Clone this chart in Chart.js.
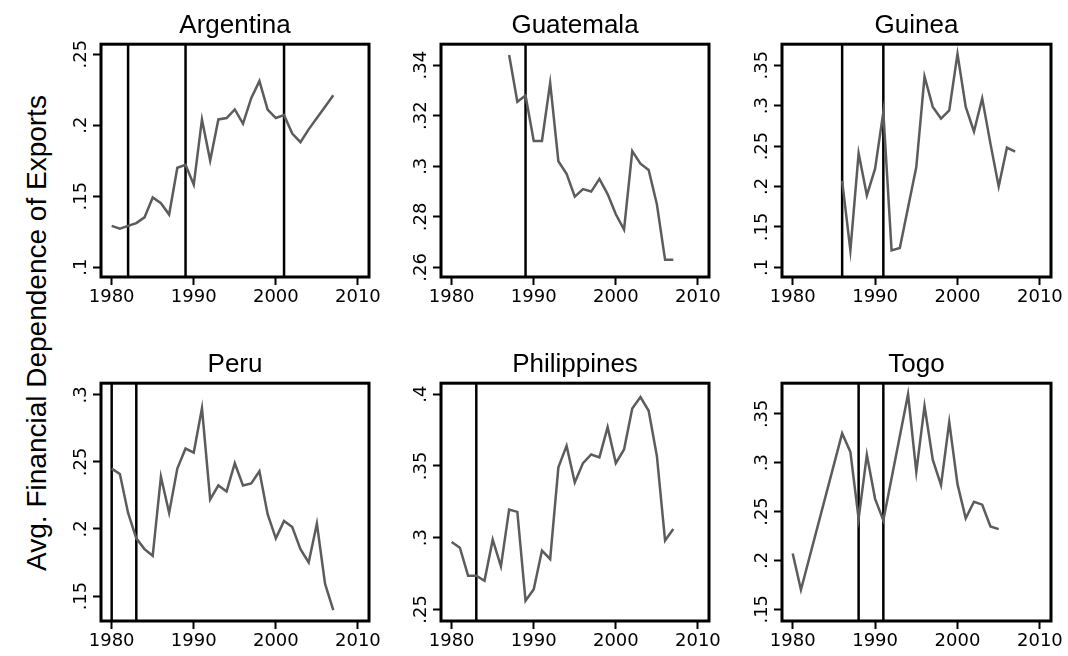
<!DOCTYPE html>
<html lang="en">
<head>
<meta charset="UTF-8">
<title>Avg. Financial Dependence of Exports</title>
<style>
    body {
        margin: 0;
        background: #FFFFFF;
        width: 1068px;
        height: 656px;
        position: relative;
        overflow: hidden;
    }
    canvas {
        position: absolute;
    }
    .ytitle {
        position: absolute;
        left: 37px;
        top: 333px;
        transform: translate(-50%, -50%) rotate(-90deg);
        white-space: nowrap;
        font-family: "Liberation Sans", Arial, sans-serif;
        font-size: 28px;
        color: #000;
    }
</style>
</head>
<body>
<div class="ytitle">Avg. Financial Dependence of Exports</div>

<script src="https://cdn.jsdelivr.net/npm/chart.js"></script>
<script>
    // years on the x axis
    const years80to07 = [1980, 1981, 1982, 1983, 1984, 1985, 1986, 1987, 1988, 1989,
        1990, 1991, 1992, 1993, 1994, 1995, 1996, 1997, 1998, 1999,
        2000, 2001, 2002, 2003, 2004, 2005, 2006, 2007];
    const years87to07 = [1987, 1988, 1989, 1990, 1991, 1992, 1993, 1994, 1995, 1996,
        1997, 1998, 1999, 2000, 2001, 2002, 2003, 2004, 2005, 2006, 2007];
    const years86to07 = [1986, 1987, 1988, 1989, 1990, 1991, 1992, 1993, 1994, 1995,
        1996, 1997, 1998, 1999, 2000, 2001, 2002, 2003, 2004, 2005, 2006, 2007];
    const years80to05 = [1980, 1981, 1982, 1983, 1984, 1985, 1986, 1987, 1988, 1989,
        1990, 1991, 1992, 1993, 1994, 1995, 1996, 1997, 1998, 1999,
        2000, 2001, 2002, 2003, 2004, 2005];

    // series values (null = missing year, line is joined across it)
    const argentina = [.129, .127, .129, .131, .135, .149, .145, .137, .170, .172,
        .158, .204, .175, .204, .205, .211, .201, .219, .231, .211,
        .205, .207, .194, .188, .197, .205, .213, .221];
    const guatemala = [.344, .3255, .328, .310, .310, .333, .302, .297, .288, .291,
        .290, .295, .289, .281, .275, .306, .301, .2985, .285, .263, .263];
    const guinea = [.207, .121, .241, .189, .222, .292, .121, .124, null, .224,
        .336, .2985, .284, .294, .364, .2985, .268, .309, .253, .200, .248, .243];
    const peru = [.245, .241, .212, .193, .185, .180, .239, .212, .245, .260,
        .257, .290, .222, .2325, .228, .249, .2325, .234, .243, .211,
        .193, .206, .2015, .185, .175, .204, .159, .1395];
    const philippines = [.297, .293, .2735, .2735, .270, .2986, .280, .3196, .318, .256,
        .264, .291, .285, .349, .364, .3385, .352, .358, .356, .377,
        .352, .3615, .390, .398, .3885, .357, .298, .306];
    const togo = [.207, .170, null, null, null, null, .330, .311, .2425, .308,
        .263, .241, null, null, .370, .2905, .358, .303, .277, .3416,
        .278, .243, .260, .257, .2347, .232];

    // event years marked with vertical lines
    const argentinaLines = [1982, 1989, 2001];
    const guatemalaLines = [1989];
    const guineaLines = [1986, 1991];
    const peruLines = [1980, 1983];
    const philippinesLines = [1983];
    const togoLines = [1988, 1991];

    // tick labels
    const xTickLabels = ['1980', '1990', '2000', '2010'];
    const argentinaTicks = ['.1', '.15', '.2', '.25'];
    const guatemalaTicks = ['.26', '.28', '.3', '.32', '.34'];
    const guineaTicks = ['.1', '.15', '.2', '.25', '.3', '.35'];
    const peruTicks = ['.15', '.2', '.25', '.3'];
    const philippinesTicks = ['.25', '.3', '.35', '.4'];
    const togoTicks = ['.15', '.2', '.25', '.3', '.35'];

    // axis ranges
    const xRange = [1978.7, 2011.35];
    const argentinaRange = [.093, .257];
    const guatemalaRange = [.2562, .3483];
    const guineaRange = [.088, .376];
    const peruRange = [.1314, .3087];
    const philippinesRange = [.2419, .4077];
    const togoRange = [.138, .3813];

    const panels = [
        { name: 'Argentina', years: years80to07, values: argentina, lines: argentinaLines, ticks: argentinaTicks, range: argentinaRange, box: [101, 44, 268, 233] },
        { name: 'Guatemala', years: years87to07, values: guatemala, lines: guatemalaLines, ticks: guatemalaTicks, range: guatemalaRange, box: [441, 44, 268, 233] },
        { name: 'Guinea', years: years86to07, values: guinea, lines: guineaLines, ticks: guineaTicks, range: guineaRange, box: [782, 44, 269, 233] },
        { name: 'Peru', years: years80to07, values: peru, lines: peruLines, ticks: peruTicks, range: peruRange, box: [101, 383, 268, 238] },
        { name: 'Philippines', years: years80to07, values: philippines, lines: philippinesLines, ticks: philippinesTicks, range: philippinesRange, box: [441, 383, 268, 238] },
        { name: 'Togo', years: years80to05, values: togo, lines: togoLines, ticks: togoTicks, range: togoRange, box: [782, 383, 269, 238] }
    ];

    const AXIS_W = 70, TITLE_H = 40, XAXIS_H = 40, RIGHT_PAD = 20;
    const tickFont = { family: "'DejaVu Sans', sans-serif", size: 18 };

    // vertical event lines and the frame around each plot
    const framePlugin = {
        id: 'frame',
        beforeDatasetsDraw(chart, args, opts) {
            const { ctx, chartArea: a } = chart;
            const xs = chart.scales.x;
            ctx.save();
            ctx.strokeStyle = '#000';
            ctx.lineWidth = 2.5;
            opts.lines.forEach(yr => {
                const px = xs.getPixelForValue(yr);
                ctx.beginPath();
                ctx.moveTo(px, a.top);
                ctx.lineTo(px, a.bottom);
                ctx.stroke();
            });
            ctx.restore();
        },
        afterDraw(chart) {
            const { ctx, chartArea: a } = chart;
            ctx.save();
            ctx.strokeStyle = '#000';
            ctx.lineWidth = 3;
            ctx.strokeRect(a.left, a.top, a.right - a.left, a.bottom - a.top);
            ctx.restore();
        }
    };

    panels.forEach(p => {
        const [L, T, W, H] = p.box;
        const canvas = document.createElement('canvas');
        canvas.width = AXIS_W + W + RIGHT_PAD;
        canvas.height = TITLE_H + H + XAXIS_H;
        canvas.style.left = (L - AXIS_W) + 'px';
        canvas.style.top = (T - TITLE_H) + 'px';
        document.body.appendChild(canvas);

        new Chart(canvas.getContext('2d'), {
            type: 'line',
            data: {
                datasets: [{
                    data: p.years.map((yr, i) => ({ x: yr, y: p.values[i] })),
                    borderColor: '#5c5c5c',
                    borderWidth: 2.5,
                    pointRadius: 0,
                    tension: 0,
                    spanGaps: true,
                    fill: false
                }]
            },
            options: {
                responsive: false,
                animation: false,
                layout: { padding: { left: 0, top: 0, right: RIGHT_PAD, bottom: 0 } },
                plugins: {
                    legend: { display: false },
                    tooltip: { enabled: false },
                    title: {
                        display: true,
                        fullSize: false,
                        text: p.name,
                        color: '#000',
                        font: { family: "'Liberation Sans', Arial, sans-serif", size: 26, weight: 'normal' },
                        padding: { top: 6, bottom: 3 }
                    },
                    frame: { lines: p.lines }
                },
                scales: {
                    x: {
                        type: 'linear',
                        min: xRange[0],
                        max: xRange[1],
                        afterBuildTicks: s => { s.ticks = xTickLabels.map(l => ({ value: +l })); },
                        afterFit: s => { s.height = XAXIS_H; },
                        ticks: {
                            callback: (v, i) => xTickLabels[i],
                            font: tickFont,
                            color: '#000',
                            padding: 2,
                            maxRotation: 0,
                            autoSkip: false
                        },
                        grid: { display: true, drawOnChartArea: false, drawTicks: true, tickLength: 8, tickWidth: 2, tickColor: '#000' },
                        border: { display: false }
                    },
                    y: {
                        type: 'linear',
                        min: p.range[0],
                        max: p.range[1],
                        afterBuildTicks: s => { s.ticks = p.ticks.map(l => ({ value: parseFloat(l) })); },
                        afterFit: s => { s.width = AXIS_W; },
                        ticks: {
                            callback: (v, i) => p.ticks[i],
                            font: tickFont,
                            color: '#000',
                            minRotation: 90,
                            maxRotation: 90,
                            crossAlign: 'center',
                            padding: -2.3,
                            autoSkip: false
                        },
                        grid: { display: true, drawOnChartArea: false, drawTicks: true, tickLength: 8, tickWidth: 2, tickColor: '#000' },
                        border: { display: false }
                    }
                }
            },
            plugins: [framePlugin]
        });
    });
</script>
</body>
</html>
